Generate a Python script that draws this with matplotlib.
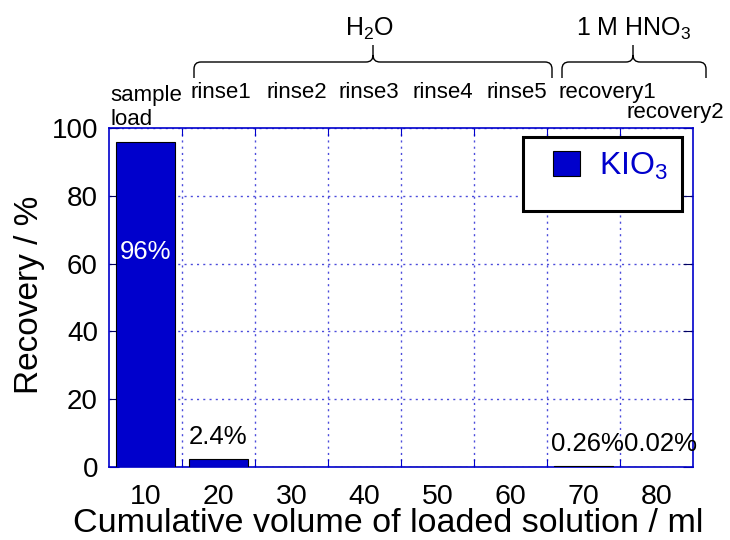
import matplotlib
matplotlib.use("Agg")
import matplotlib.pyplot as plt
from matplotlib.path import Path
from matplotlib.patches import PathPatch, Rectangle

plt.rcParams['font.family'] = ['Liberation Sans', 'DejaVu Sans']
plt.rcParams['mathtext.fontset'] = 'custom'
plt.rcParams['mathtext.rm'] = 'Liberation Sans'
plt.rcParams['mathtext.it'] = 'Liberation Sans:italic'

# data
volume = [10, 20, 30, 40, 50, 60, 70, 80]
recovery = [96, 2.4, 0, 0, 0, 0, 0.26, 0.02]
pct_labels = ['96%', '2.4%', '', '', '', '', '0.26%', '0.02%']
steps = ['rinse1', 'rinse2', 'rinse3', 'rinse4', 'rinse5']
blue = '#0000CC'

W, H = 730, 540
fig = plt.figure(figsize=(W / 100, H / 100), dpi=100)
ax = fig.add_axes([109 / W, 1 - 467 / H, 584 / W, 339 / H])


def fxy(x, y):
    # pixel position -> figure fraction
    return x / W, 1 - y / H


ax.bar(volume, recovery, width=8, color=blue, edgecolor='black', linewidth=0.8,
       label='KIO$_3$', zorder=3)

ax.set_xlim(5, 85)
ax.set_ylim(0, 100)
ax.set_yticks(range(0, 101, 20))
ax.set_xticks([v + 5 for v in volume[:-1]])
ax.set_xticklabels([])
ax.set_xticks(volume, minor=True)
ax.set_xticklabels([str(v) for v in volume], minor=True)
ax.tick_params(axis='x', which='minor', length=0, labelsize=20.5, pad=12)
ax.tick_params(axis='x', which='major', direction='in', length=6, color=blue,
               top=True, bottom=True)
ax.tick_params(axis='y', direction='in', length=7, color='#000060', labelsize=20,
               right=True, pad=8)
for s in ax.spines.values():
    s.set_color(blue)
    s.set_linewidth(1.2)

ax.grid(True, which='major', linestyle=(0, (1.5, 3)), color=blue, linewidth=1.0,
        alpha=0.7, zorder=0)

fig.text(*fxy(388, 523), 'Cumulative volume of loaded solution / ml', fontsize=24.5,
         ha='center', va='center')
fig.text(*fxy(30, 295), 'Recovery / %', fontsize=24, rotation=90,
         ha='center', va='center')

# percent labels
for v, r, t in zip(volume, recovery, pct_labels):
    if not t:
        continue
    if r > 50:
        ax.text(v, 63.4, t, ha='center', va='center', color='white', fontsize=18.5)
    elif r > 1:
        ax.text(v, r + 6.4, t, ha='center', va='center', fontsize=18.5)
    else:
        ax.text(v + 0.5, 6.8, t, ha='center', va='center', fontsize=18.5)

# legend box drawn separately so its padding matches
x0, y0 = fxy(523, 211)
x1, y1 = fxy(682, 137)
ax.add_patch(Rectangle((x0, y0), x1 - x0, y1 - y0, transform=fig.transFigure,
                       facecolor='white', edgecolor='black', linewidth=2.2,
                       zorder=4, clip_on=False))
leg = ax.legend(loc='center left', bbox_to_anchor=fxy(553, 166),
                bbox_transform=fig.transFigure, borderaxespad=0, borderpad=0,
                fontsize=23, handlelength=0.85, handleheight=0.85, handletextpad=0.6,
                frameon=False, labelcolor=blue)
leg.set_zorder(5)

# step labels above the axes
fig.text(*fxy(110, 125), 'sample\nload', fontsize=16, ha='left', va='baseline',
         linespacing=1.2)
step_x = [191, 267, 339, 412, 486]
for x, s in zip(step_x, steps):
    fig.text(*fxy(x, 98), s, fontsize=16, ha='left', va='baseline')
fig.text(*fxy(558, 98), 'recovery1', fontsize=16, ha='left', va='baseline')
fig.text(*fxy(627, 118), 'recovery2', fontsize=16, ha='left', va='baseline')


def brace(x0, x1, xc, yb=78, ym=62, yt=45, r=7):
    pts = [(x0, yb), (x0, ym + r), (x0, ym), (x0 + r, ym),
           (xc - r, ym), (xc, ym), (xc, ym - r), (xc, yt),
           (xc, ym - r), (xc, ym), (xc + r, ym),
           (x1 - r, ym), (x1, ym), (x1, ym + r), (x1, yb)]
    codes = [Path.MOVETO, Path.LINETO, Path.CURVE3, Path.CURVE3,
             Path.LINETO, Path.CURVE3, Path.CURVE3, Path.LINETO,
             Path.MOVETO, Path.CURVE3, Path.CURVE3,
             Path.LINETO, Path.CURVE3, Path.CURVE3, Path.LINETO]
    path = Path([fxy(*p) for p in pts], codes)
    fig.patches.append(PathPatch(path, transform=fig.transFigure, fill=False,
                                 edgecolor='black', linewidth=1.0))


brace(194, 552, 373)
brace(562, 706, 633)
fig.text(*fxy(369, 36), 'H$_2$O', fontsize=18, ha='center', va='baseline')
fig.text(*fxy(634, 36), '1 M HNO$_3$', fontsize=18, ha='center', va='baseline')

fig.savefig('out.png', dpi=100)
